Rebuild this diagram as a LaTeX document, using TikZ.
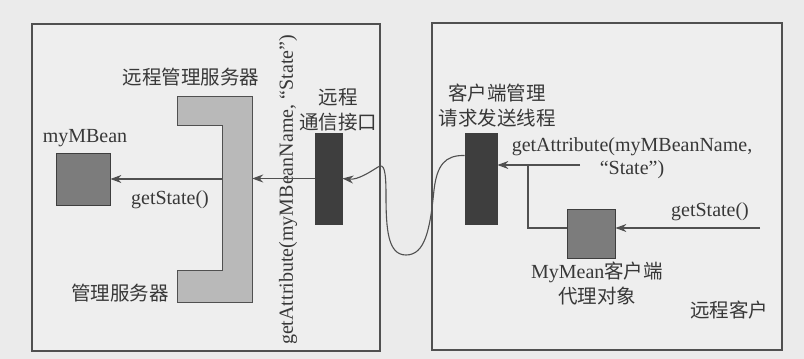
\documentclass[tikz,border=0pt]{standalone}
\usepackage{fontspec}
\setmainfont{Liberation Serif}
\newfontfamily\cjk{Noto Sans CJK SC}
\usetikzlibrary{arrows.meta}
\definecolor{bgc}{HTML}{EBEBEB}
\definecolor{panelc}{HTML}{EEEEEE}
\definecolor{linec}{HTML}{505050}
\definecolor{txtc}{HTML}{383838}
\definecolor{midc}{HTML}{7C7C7C}
\definecolor{darkc}{HTML}{3E3E3E}
\definecolor{lightc}{HTML}{B9B9B9}
\tikzset{
  panel/.style={draw=linec, line width=1.2pt, fill=panelc, minimum width=#1, minimum height=327pt, inner sep=0pt},
  medbox/.style={draw=darkc, line width=0.8pt, fill=midc, inner sep=0pt},
  darkbox/.style={draw=darkc, line width=0.8pt, fill=darkc, inner sep=0pt},
  arr/.style={draw=linec, line width=1.1pt, -{Stealth[length=11pt,width=8pt]}},
  conn/.style={draw=linec, line width=1.1pt},
  cn/.style={text=txtc, font=\cjk\fontsize{19.5}{25}\selectfont, align=center, inner sep=0pt},
  lt/.style={text=txtc, font=\fontsize{20}{23}\selectfont, align=center, inner sep=0pt}
}
\begin{document}
\begin{tikzpicture}[x=1pt,y=-1pt]
\fill[bgc] (0,0) rectangle (804,359);
\useasboundingbox (0,0) rectangle (804,359);
% panels
\node[panel=348pt] (left) at (206,187.5) {};
\node[panel=350pt] (right) at (607,186.5) {};
% management server bracket
\fill[lightc, draw=linec, line width=0.8pt] (177,96) -- (252,96) -- (252,302) -- (177,302) -- (177,270) -- (222,270) -- (222,125) -- (177,125) -- cycle;
\node[minimum width=30pt, minimum height=206pt, inner sep=0pt] (mgr) at (237,199) {};
% boxes
\node[medbox, minimum width=54pt, minimum height=52pt] (mb) at (83,179) {};
\node[darkbox, minimum width=27pt, minimum height=91pt] (comm) at (328.5,178.5) {};
\node[darkbox, minimum width=32pt, minimum height=91pt] (client) at (481,178.5) {};
\node[medbox, minimum width=48pt, minimum height=49pt] (proxy) at (591,233.5) {};
% labels
\node[lt] (lmb) at (85,138) {myMBean};
\node[lt] (lgs1) at (170,200) {getState()};
\node[cn] (lrms) at (191,77) {远程管理服务器};
\node[cn] (lms) at (120,293) {管理服务器};
\node[lt, rotate=90] (lga1) at (288,190) {getAttribute(myMBeanName, “State”)};
\node[cn] (lcomm) at (338,110) {远程\\通信接口};
\node[cn] (lclient) at (497,106) {客户端管理\\请求发送线程};
\node[lt] (lga2) at (632,158) {getAttribute(myMBeanName,\\“State”)};
\node[lt] (lgs2) at (710,212) {getState()};
\node[text=txtc, align=center, inner sep=0pt, font=\fontsize{20}{25}\selectfont] (lproxy) at (597,284) {MyMean{\cjk\fontsize{19.5}{25}\selectfont 客户端}\\{\cjk\fontsize{19.5}{25}\selectfont 代理对象}};
\node[cn] (lrc) at (729,310) {远程客户};
% connectors
\draw[arr] (mgr.west |- mb.east) -- (mb.east);
\draw[arr] (comm.west) -- (comm.west -| mgr.east);
\draw[arr] ([yshift=23pt]client.west) .. controls (445,155) and (437,165) .. (434,190)
  .. controls (430,230) and (425,255) .. (406,255)
  .. controls (388,255) and (386,230) .. (386,195)
  .. controls (386,170) and (384,163) .. (378,167)
  .. controls (370,172) and (358,180) .. (comm.east);
\coordinate (ga) at (580,165);
\draw[arr] (ga) -- (ga -| client.east);
\coordinate (gs) at (760,228);
\draw[arr] (gs) -- (gs -| proxy.east);
\coordinate (bend) at (528,228);
\draw[conn] (gs -| proxy.west) -- (bend) -- (bend |- ga);
\end{tikzpicture}
\end{document}
